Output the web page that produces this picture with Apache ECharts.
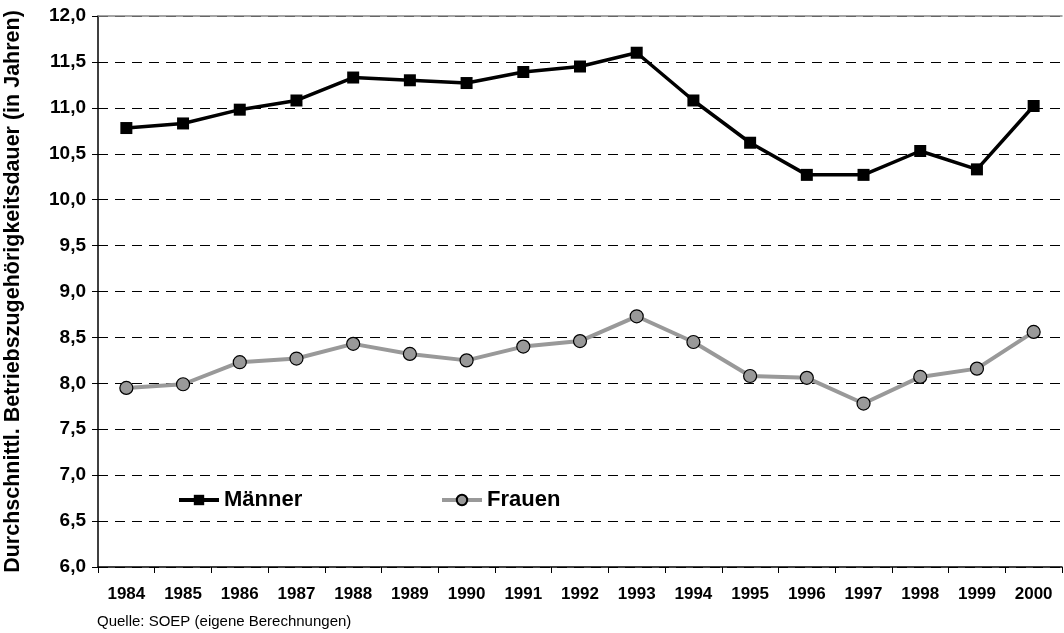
<!DOCTYPE html>
<html>
<head>
<meta charset="utf-8">
<script src="https://cdn.jsdelivr.net/npm/echarts@6/dist/echarts.min.js"></script>
<style>
  html, body { margin: 0; padding: 0; background: #fff; }
  #chart { width: 1064px; height: 633px; }
</style>
</head>
<body>
<div id="chart"></div>
<script>
const years = ['1984', '1985', '1986', '1987', '1988', '1989', '1990', '1991', '1992',
  '1993', '1994', '1995', '1996', '1997', '1998', '1999', '2000']
const maenner = [10.78, 10.83, 10.98, 11.08, 11.33, 11.30, 11.27, 11.39, 11.45,
  11.60, 11.08, 10.62, 10.27, 10.27, 10.53, 10.33, 11.02]
const frauen = [7.95, 7.99, 8.23, 8.27, 8.43, 8.32, 8.25, 8.40, 8.46,
  8.73, 8.45, 8.08, 8.06, 7.78, 8.07, 8.16, 8.56]

const font = 'Liberation Sans, Arial, sans-serif'
const chart = echarts.init(document.getElementById('chart'))

chart.setOption({
  animation: false,
  grid: { left: 98, right: 2, top: 16, bottom: 66, outerBoundsMode: 'none', containLabel: false },
  legend: [
    {
      data: ['Männer'], left: 172, top: 484, itemWidth: 40, itemHeight: 13, itemGap: 4,
      lineStyle: { width: 4 },
      textStyle: { fontFamily: font, fontWeight: 'bold', fontSize: 22, color: '#000' }
    },
    {
      data: ['Frauen'], left: 435, top: 484, itemWidth: 40, itemHeight: 13, itemGap: 4,
      lineStyle: { width: 4 },
      textStyle: { fontFamily: font, fontWeight: 'bold', fontSize: 22, color: '#000' }
    }
  ],
  graphic: [{
    type: 'text', left: 97, top: 614,
    style: { text: 'Quelle: SOEP (eigene Berechnungen)', font: '15px ' + font, fill: '#000' }
  }],
  xAxis: [
    {
      type: 'category',
      data: years,
      boundaryGap: true,
      axisLine: { lineStyle: { color: '#000', width: 1.5 } },
      axisTick: { show: true, alignWithLabel: false, length: 6, lineStyle: { color: '#000' } },
      axisLabel: { fontFamily: font, fontWeight: 'bold', fontSize: 17, color: '#000', margin: 19 }
    },
    {
      type: 'category',
      position: 'top',
      data: years,
      axisLine: { show: true, lineStyle: { color: '#888', width: 1.5 } },
      axisTick: { show: false },
      axisLabel: { show: false }
    }
  ],
  yAxis: {
    type: 'value',
    min: 6,
    max: 12,
    interval: 0.5,
    name: 'Durchschnittl. Betriebszugehörigkeitsdauer (in Jahren)',
    nameLocation: 'middle',
    nameGap: 74,
    nameTextStyle: { fontFamily: font, fontWeight: 'bold', fontSize: 21.5, color: '#000' },
    axisLine: { show: true, lineStyle: { color: '#000', width: 1.5 } },
    axisTick: { show: true, length: 6, lineStyle: { color: '#000' } },
    axisLabel: {
      fontFamily: font, fontWeight: 'bold', fontSize: 19, color: '#000', margin: 12,
      formatter: v => v.toFixed(1).replace('.', ',')
    },
    splitLine: { show: true, lineStyle: { color: '#000', type: [10, 7], width: 1 } }
  },
  series: [
    {
      name: 'Männer',
      type: 'line',
      data: maenner,
      symbol: 'rect',
      symbolSize: 12,
      lineStyle: { color: '#000', width: 3.5 },
      itemStyle: { color: '#000' }
    },
    {
      name: 'Frauen',
      type: 'line',
      data: frauen,
      symbol: 'circle',
      symbolSize: 13,
      lineStyle: { color: '#999', width: 4 },
      itemStyle: { color: '#999', borderColor: '#000', borderWidth: 1.2 }
    }
  ]
})
</script>
</body>
</html>
